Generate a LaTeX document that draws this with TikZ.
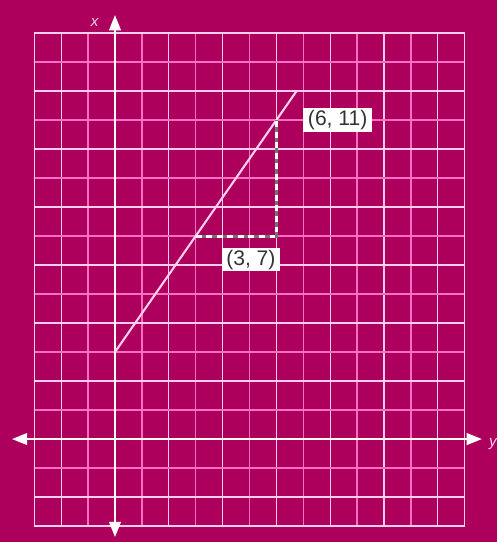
\documentclass[tikz,border=0pt]{standalone}
\usepackage{fontspec}
\setmainfont{Liberation Sans}
\usetikzlibrary{arrows.meta,positioning}

\definecolor{plum}{RGB}{172,0,92}
\definecolor{gridpink}{RGB}{255,110,195}
\definecolor{gridwhite}{RGB}{255,205,238}

\tikzset{
    coordbox/.style={fill=white, text=black!80, inner xsep=4pt, inner ysep=1.5pt, font=\fontsize{18}{19}\selectfont},
    axisline/.style={white, line width=1.6pt, {Triangle[length=13pt,width=10pt]}-{Triangle[length=13pt,width=10pt]}},
    oddline/.style={gridpink, line width=1.3pt},
    evenline/.style={gridwhite, line width=1.1pt},
}

\begin{document}
\begin{tikzpicture}[x=0.807cm, y=0.87cm]
        \fill [plum] (-4.275,-3.55) rectangle (14.2,15.14);
        \useasboundingbox (-4.275,-3.55) rectangle (14.2,15.14);

        % grid
        \foreach \i in {-2,...,12} {
            \pgfmathparse{mod(\i+20,2)==1 ? "oddline" : "evenline"}
            \draw [\pgfmathresult] (\i,-3) -- (\i,14);
        }
        \foreach \j in {-2,...,13} {
            \pgfmathparse{mod(\j+20,2)==1 ? "oddline" : "evenline"}
            \draw [\pgfmathresult] (-3,\j) -- (13,\j);
        }
        \draw [gridwhite, line width=1.3pt] (-3,-3) rectangle (13,14);

        % axes
        \draw [axisline] (-3.83,0) -- (13.64,0) node [right, gridwhite, font=\itshape\fontsize{13}{14}\selectfont, xshift=2pt, yshift=-4pt] (ylab) {y};
        \draw [axisline] (0,-3.38) -- (0,14.62) node [below left=-0.05cm and 0.35cm, gridwhite, font=\itshape\fontsize{13}{14}\selectfont] (xlab) {x};

        \coordinate (start) at (0,3);
        \coordinate (end) at (6.75,12);
        \coordinate (p37) at (3,7);
        \coordinate (p67) at (6,7);
        \coordinate (p611) at (6,11);

        \draw [gridwhite, line width=1.8pt] (start) -- (end);

        \draw [black!55, line width=2.6pt] (p37) -- (p67) -- (p611);
        \draw [white, line width=2.6pt, dash pattern=on 5pt off 4pt] (p37) -- (p67) -- (p611);

        \node [coordbox, anchor=west] (lab611) at ([xshift=0.8cm]p611) {(6, 11)};
        \node [coordbox, below left=0.36cm and -0.12cm of p67] (lab37) {(3, 7)};
\end{tikzpicture}
\end{document}
